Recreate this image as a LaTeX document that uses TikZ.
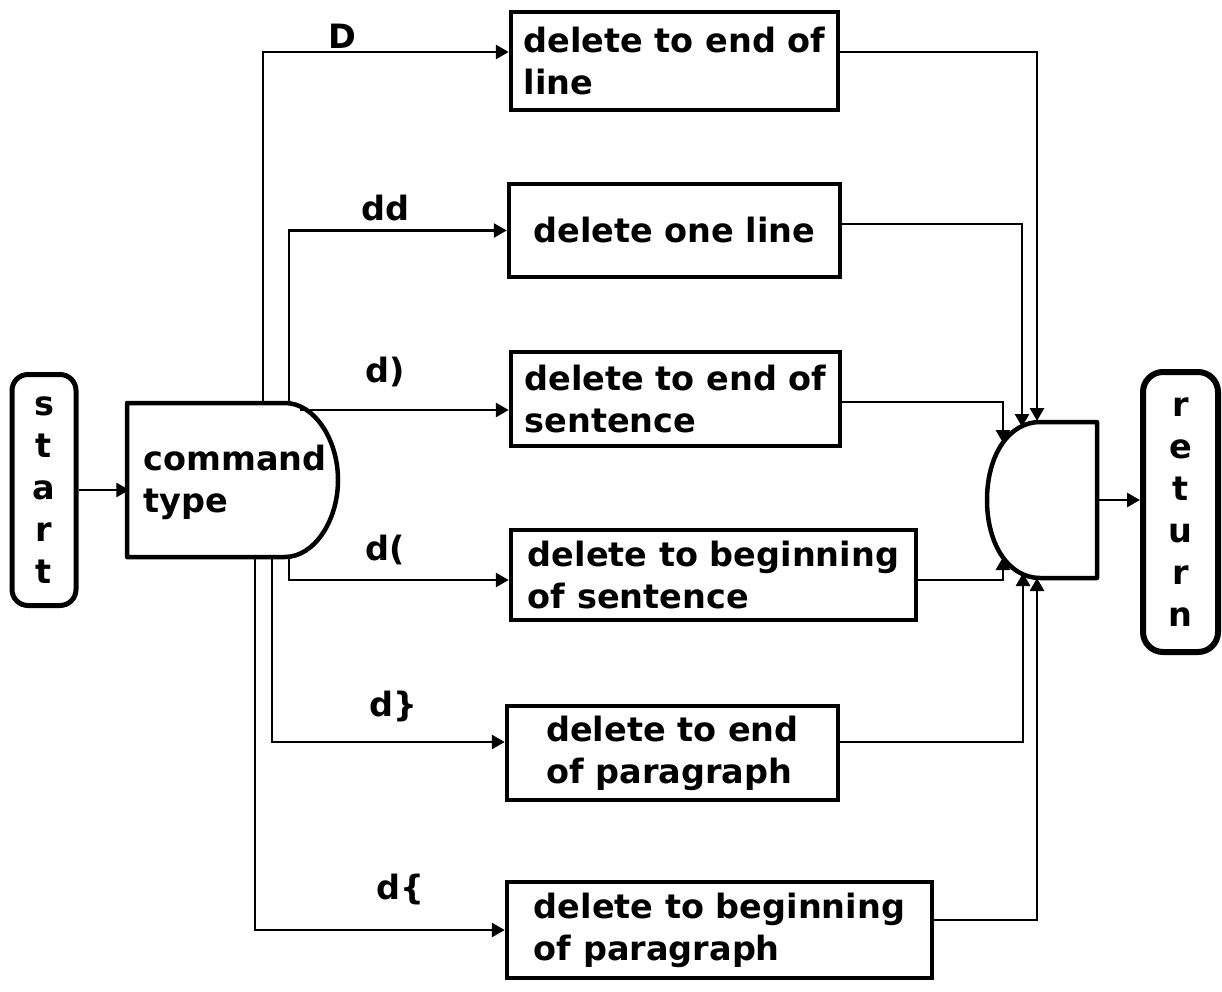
\documentclass[tikz,border=0pt]{standalone}
\usepackage{fontspec}
\setmainfont{DejaVu Sans}[BoldFont={DejaVu Sans Bold}]
\usetikzlibrary{arrows.meta}
\begin{document}
\begin{tikzpicture}[x=1pt,y=-1pt,
  txt/.style={font=\fontsize{33.5}{42}\selectfont\bfseries},
  box/.style={draw, line width=4.5pt, align=left, txt, inner sep=0pt},
  term/.style={draw, line width=5pt, rounded corners=16pt, align=center, txt, inner sep=0pt},
  conn/.style={line width=2.8pt},
  arr/.style={conn, -{Triangle[length=13pt,width=14pt]}},
  lbl/.style={txt, inner sep=0pt}]
\useasboundingbox (0,0) rectangle (1222,992);

% terminals
\node[term, minimum width=64pt, minimum height=231pt] (start) at (44,490) {s\\t\\a\\r\\t};
\node[term, minimum width=75pt, minimum height=280pt, line width=6pt, rounded corners=20pt] (ret) at (1180.5,512) {r\\e\\t\\u\\r\\n};

% decision node "command type"
\node[txt, align=left, minimum width=211pt, minimum height=154pt, inner sep=0pt] (cmd) at (235,482) {command\\type};
\draw[line width=4.5pt, line join=round]
  (127,403) -- (285,403) .. controls (314,403) and (338,439) .. (338,480)
  .. controls (338,521) and (314,557) .. (285,557) -- (127,557) -- cycle;

% action boxes
\node[box, minimum width=327pt, minimum height=98pt] (b1) at (674.5,61) {delete to end of\\line};
\node[box, minimum width=331pt, minimum height=93pt] (b2) at (674.5,230.5) {delete one line};
\node[box, minimum width=329pt, minimum height=94pt] (b3) at (675.5,399) {delete to end of\\sentence};
\node[box, minimum width=405pt, minimum height=90pt] (b4) at (713.5,575) {delete to beginning\\of sentence};
\node[box, minimum width=331pt, minimum height=94pt] (b5) at (672.5,753) {delete to end\\of paragraph};
\node[box, minimum width=425pt, minimum height=96pt] (b6) at (719.5,930) {delete to beginning\\of paragraph};

% merge node
\node[minimum width=110pt, minimum height=156pt, inner sep=0pt] (merge) at (1042,500) {};
\draw[line width=4.5pt, line join=round]
  (1040,422) -- (1097,422) -- (1097,578) -- (1040,578)
  .. controls (1009,578) and (987,545) .. (987,500)
  .. controls (987,455) and (1009,422) .. (1040,422);

% branch points on the decision node
\coordinate (cD)  at (263,403);
\coordinate (cdd) at (289,403);
\coordinate (cdr) at (300,410);
\coordinate (cdl) at (289,557);
\coordinate (cpr) at (272,557);
\coordinate (cpl) at (255,557);

% entry points on the merge node
\coordinate (m1) at (1037,421);
\coordinate (m2) at (1022,427);
\coordinate (m3) at (1003,443);
\coordinate (m4) at (1003,557);
\coordinate (m5) at (1023,573);
\coordinate (m6) at (1037,578);

% flow
\draw[arr] (start.east) -- (start.east -| cmd.west);
\draw[arr] (cD)  |- ([yshift=9pt]b1.west);
\draw[arr] (cdd) |- (b2.west);
\draw[arr] (cdr) -- ([yshift=-11pt]b3.west);
\draw[arr] (cdl) |- ([yshift=-5pt]b4.west);
\draw[arr] (cpr) |- ([yshift=11pt]b5.west);
\draw[arr] (cpl) |- (b6.west);

\draw[arr] ([yshift=9pt]b1.east)   -| (m1);
\draw[arr] ([yshift=6.5pt]b2.east) -| (m2);
\draw[arr] ([yshift=-3pt]b3.east)  -| (m3);
\draw[arr] ([yshift=-5pt]b4.east)  -| (m4);
\draw[arr] ([yshift=11pt]b5.east)  -| (m5);
\draw[arr] ([yshift=10pt]b6.east)  -| (m6);

\draw[arr] (merge.east) -- (merge.east -| ret.west);

% branch labels
\node[lbl] (lD)  at (342,36)  {D};
\node[lbl] (ldd) at (385,208) {dd};
\node[lbl] (ldr) at (385,372) {d)};
\node[lbl] (ldl) at (385,550) {d(};
\node[lbl] (lpr) at (393,706) {d\}};
\node[lbl] (lpl) at (400,889) {d\{};
\end{tikzpicture}
\end{document}
